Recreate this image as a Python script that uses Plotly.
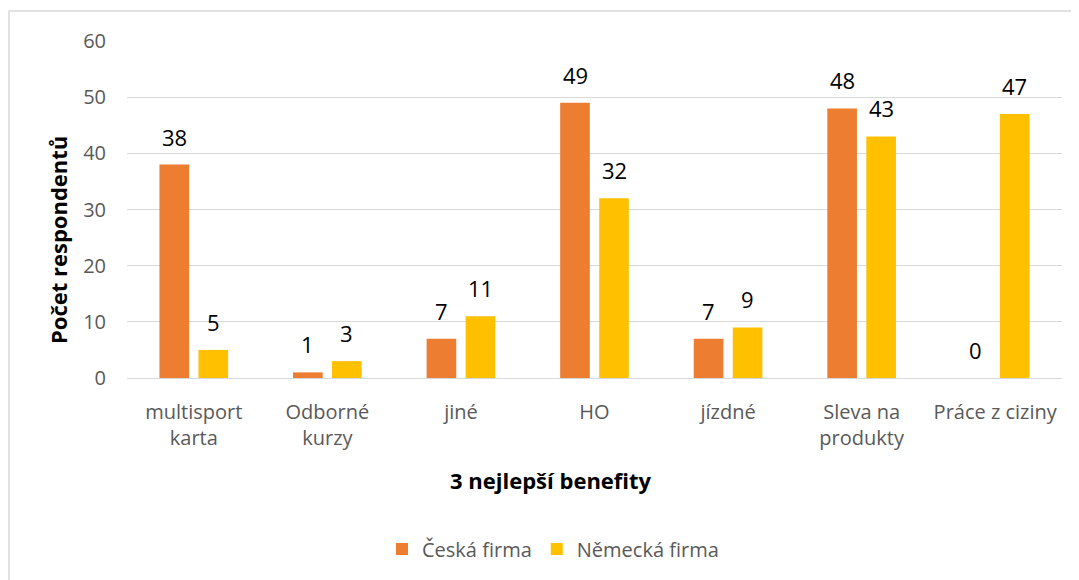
import plotly.graph_objects as go

categories = ["multisport<br>karta", "Odborné<br>kurzy", "jiné", "HO", "jízdné", "Sleva na<br>produkty", "Práce z ciziny"]
ceska = [38, 1, 7, 49, 7, 48, 0]
nemecka = [5, 3, 11, 32, 9, 43, 47]
series_names = ["Česká firma", "Německá firma"]
colors = ["#ED7D31", "#FFC000"]

FONT = "Open Sans"
OFF = 8  # page body margin in browser
W, H = 1079, 580
# target pixel positions in the window
PL, PR, PT, PB = 127, 1062, 41, 378
ML, MT = PL - OFF, PT - OFF
MR = W - (PR - OFF)
MB = H - (PB - OFF)
PW, PH = PR - PL, PB - PT

def px_x(px):
    return (px - PL) / PW

def px_y(py):
    return (PB - py) / PH

fig = go.Figure()
for name, vals, col in zip(series_names, [ceska, nemecka], colors):
    fig.add_trace(go.Bar(x=categories, y=vals, name=name, marker_color=col, marker_line_width=0))

annotations = []
for shift, vals in zip([-19.5, 19.5], [ceska, nemecka]):
    for c, v in zip(categories, vals):
        annotations.append(dict(x=c, y=v, xref="x", yref="y", text=str(v), showarrow=False,
                                xshift=shift, yshift=28, yanchor="middle",
                                font=dict(family=FONT, size=22, color="#000000")))

annotations.append(dict(x=px_x(551), y=px_y(480), xref="paper", yref="paper", text="<b>3 nejlepší benefity</b>",
                        showarrow=False, xanchor="center", yanchor="middle",
                        font=dict(family=FONT, size=22, color="#000000")))
annotations.append(dict(x=px_x(58), y=px_y(240), xref="paper", yref="paper", text="<b>Počet respondentů</b>",
                        showarrow=False, xanchor="center", yanchor="middle", textangle=-90,
                        font=dict(family=FONT, size=22, color="#000000")))

fig.update_layout(
    width=W, height=H,
    margin=dict(l=ML, r=MR, t=MT, b=MB),
    plot_bgcolor="white", paper_bgcolor="white",
    barmode="group", bargap=0.416, bargroupgap=0.24,
    font=dict(family=FONT, size=20, color="#595959"),
    showlegend=True,
    legend=dict(orientation="h", x=px_x(553), xanchor="center", y=px_y(549), yanchor="middle",
                font=dict(family=FONT, size=20, color="#595959"), itemwidth=30),
    annotations=annotations,
    shapes=[dict(type="rect", xref="paper", yref="paper", x0=px_x(OFF + 1), x1=px_x(1100), y0=px_y(11), y1=px_y(620),
                 line=dict(color="#D9D9D9", width=1.5), fillcolor="rgba(0,0,0,0)", layer="below")],
)
fig.update_yaxes(range=[0, 60], dtick=10, showgrid=True, gridcolor="#D9D9D9", gridwidth=1,
                 zeroline=True, zerolinecolor="#D9D9D9", zerolinewidth=1, showline=False,
                 tickfont=dict(family=FONT, size=20, color="#595959"), ticklabelstandoff=20)
fig.update_xaxes(showline=False, showgrid=False, tickfont=dict(family=FONT, size=20, color="#595959"),
                 ticklabelstandoff=20)

fig.write_html("out.html")
